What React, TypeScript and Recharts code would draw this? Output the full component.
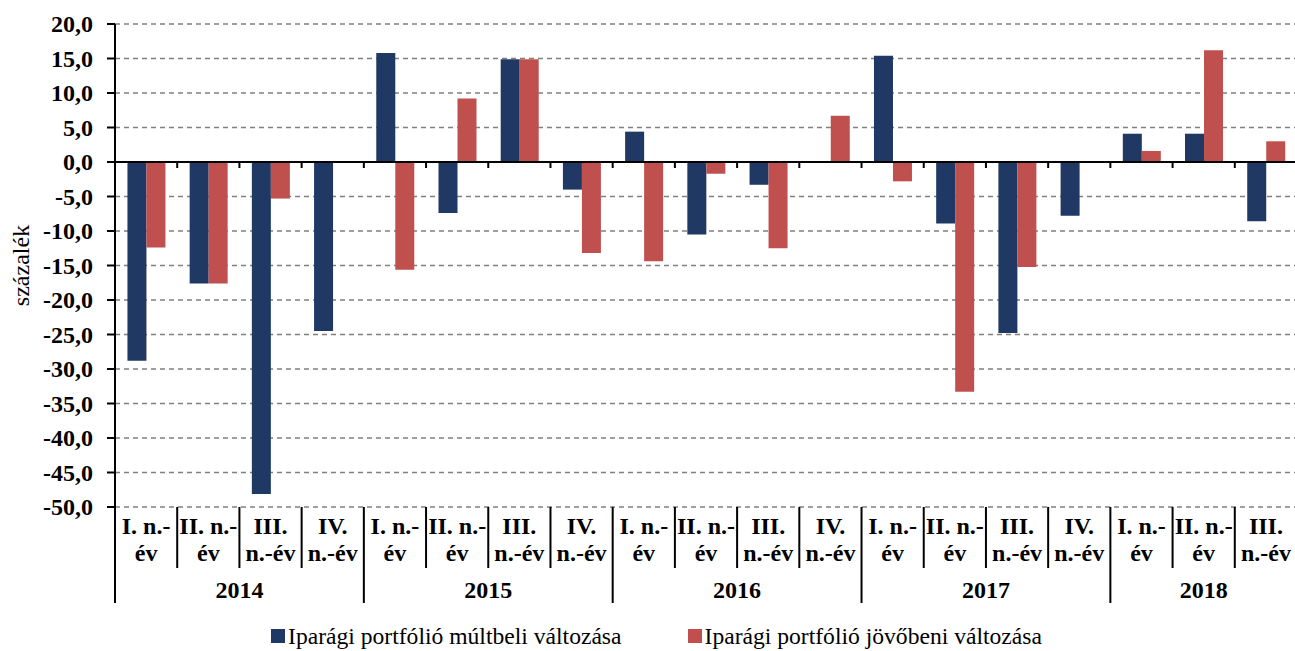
import React from 'react';
import { BarChart, Bar, XAxis, YAxis, CartesianGrid, ReferenceLine, Legend } from 'recharts';

const years = ['2014', '2015', '2016', '2017', '2018'];
const quartersPerYear = [4, 4, 4, 4, 3];
const quarterLabels = [
  ['I. n.-', 'év'],
  ['II. n.-', 'év'],
  ['III.', 'n.-év'],
  ['IV.', 'n.-év'],
];
const pastChange = [
  -28.8, -17.6, -48.1, -24.5,
  15.8, -7.4, 14.9, -4.0,
  4.4, -10.5, -3.3, null,
  15.4, -8.9, -24.8, -7.8,
  4.1, 4.1, -8.6,
];
const futureChange = [
  -12.4, -17.6, -5.3, null,
  -15.6, 9.2, 14.9, -13.2,
  -14.4, -1.7, -12.5, 6.7,
  -2.8, -33.3, -15.2, null,
  1.6, 16.2, 3.0,
];
const yTicks = [-50, -45, -40, -35, -30, -25, -20, -15, -10, -5, 0, 5, 10, 15, 20];
const seriesNames = ['Iparági portfólió múltbeli változása', 'Iparági portfólió jövőbeni változása'];
const seriesColors = ['#1F3864', '#C0504D'];

type Cat = { cat: string; year: string; q: number; count: number };
const categories: Cat[] = [];
years.forEach((yr, yi) => {
  for (let q = 0; q < quartersPerYear[yi]; q++) {
    categories.push({ cat: `${yr}-${q + 1}`, year: yr, q, count: quartersPerYear[yi] });
  }
});
const data = categories.map((c, i) => ({ cat: c.cat, past: pastChange[i], future: futureChange[i] }));

const FONT = "'Liberation Serif', 'Times New Roman', serif";
const boldText = { fontFamily: FONT, fontWeight: 700, fontSize: 24, fill: '#000' };

const CategoryTick = (props: any) => {
  const { x, y, payload, index, width } = props;
  const band = payload && payload.offset ? payload.offset * 2 : width / categories.length;
  const left = x - band / 2;
  const c = categories[index];
  const lines = quarterLabels[c.q];
  return (
    <g>
      <text x={x} y={y + 27} textAnchor="middle" style={boldText}>{lines[0]}</text>
      <text x={x} y={y + 54} textAnchor="middle" style={boldText}>{lines[1]}</text>
      <line x1={left} x2={left} y1={y} y2={c.q === 0 ? y + 96 : y + 61} stroke="#000" strokeWidth={2} />
      {c.q === 0 && (
        <text x={left + (band * c.count) / 2} y={y + 91} textAnchor="middle" style={boldText}>{c.year}</text>
      )}
    </g>
  );
};

const ValueTick = (props: any) => {
  const { x, y, payload } = props;
  const label = Number(payload.value).toFixed(1).replace('.', ',');
  return (
    <text x={x} y={y} textAnchor="end" dominantBaseline="central" style={boldText}>{label}</text>
  );
};

const ZeroLine = (props: any) => {
  const { x1, y1, x2 } = props;
  const n = categories.length;
  const step = (x2 - x1) / n;
  const ticks = [];
  for (let i = 1; i <= n; i++) {
    ticks.push(<line key={i} x1={x1 + i * step} x2={x1 + i * step} y1={y1} y2={y1 + 6} stroke="#000" strokeWidth={2} />);
  }
  return (
    <g>
      <line x1={x1} x2={x2} y1={y1} y2={y1} stroke="#000" strokeWidth={2} />
      {ticks}
    </g>
  );
};

const LegendContent = () => (
  <div style={{ height: 44, boxSizing: 'border-box', paddingTop: 14, paddingLeft: 16, display: 'flex', justifyContent: 'center', alignItems: 'center', gap: 66, fontFamily: FONT, fontSize: 23.6, lineHeight: '27px', color: '#000' }}>
    {seriesNames.map((n, i) => (
      <div key={n} style={{ display: 'flex', alignItems: 'center' }}>
        <span style={{ display: 'inline-block', width: 14, height: 14, background: seriesColors[i], marginRight: 3 }} />
        <span style={{ fontFamily: FONT }}>{n}</span>
      </div>
    ))}
  </div>
);

export default function App() {
  return (
    <div style={{ position: 'absolute', left: 0, top: 0, width: 1295, height: 651, overflow: 'hidden', background: '#fff', fontFamily: FONT }}>
      <BarChart
        width={1300}
        height={651}
        data={data}
        margin={{ top: 24, right: 3, bottom: 0, left: 0 }}
        barCategoryGap="20%"
        barGap={0}
      >
        <CartesianGrid vertical={false} stroke="#808080" strokeDasharray="5 4" strokeWidth={1.5} />
        <XAxis
          dataKey="cat"
          height={100}
          interval={0}
          axisLine={false}
          tickLine={false}
          tickSize={0}
          tickMargin={0}
          tick={<CategoryTick />}
        />
        <YAxis
          width={115}
          domain={[-50, 20]}
          ticks={yTicks}
          interval={0}
          allowDataOverflow
          axisLine={{ stroke: '#000', strokeWidth: 2 }}
          tickLine={{ stroke: '#000', strokeWidth: 2 }}
          tickSize={8}
          tickMargin={14}
          tick={<ValueTick />}
          label={{
            content: (p: any) => {
              const vb = p.viewBox || { x: 0, y: 24, width: 115, height: 483 };
              const cy = vb.y + vb.height / 2;
              const cx = 21;
              return (
                <text x={cx} y={cy} transform={`rotate(-90, ${cx}, ${cy})`} textAnchor="middle" dominantBaseline="central" style={{ fontFamily: FONT, fontSize: 24, fill: '#000' }}>
                  százalék
                </text>
              );
            },
          }}
        />
        <Bar dataKey="past" name={seriesNames[0]} fill={seriesColors[0]} isAnimationActive={false} />
        <Bar dataKey="future" name={seriesNames[1]} fill={seriesColors[1]} isAnimationActive={false} />
        <ReferenceLine y={0} shape={<ZeroLine />} ifOverflow="visible" />
        <Legend verticalAlign="bottom" height={44} content={<LegendContent />} />
      </BarChart>
    </div>
  );
}
